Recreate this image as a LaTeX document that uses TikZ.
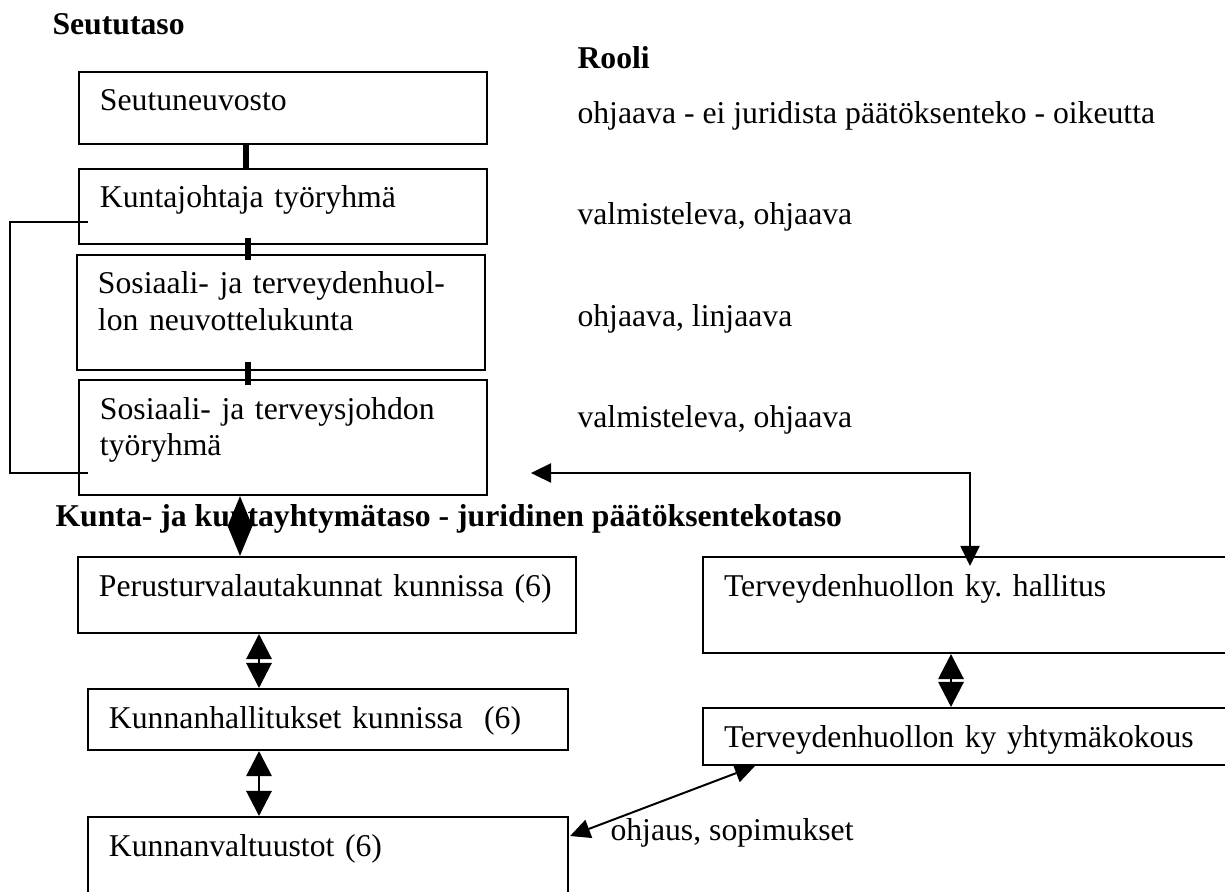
\documentclass[tikz,border=0pt]{standalone}
\usepackage{fontspec}
\setmainfont{Liberation Serif}
\usetikzlibrary{arrows.meta}

\tikzset{
  box/.style={draw, line width=0.75pt, anchor=north west, align=left,
              inner xsep=7.95pt, inner ysep=0pt, text height=14.76pt},
  heading/.style={anchor=base west, inner sep=0pt,
                  font=\fontsize{12}{14}\selectfont\frenchspacing\bfseries},
  role/.style={anchor=base west, inner sep=0pt},
  bar/.style={line width=2.25pt},
  conn/.style={line width=0.75pt},
  bigtwo/.style={<->, >={Triangle[length=9.5pt,width=9.5pt]}, line width=1.1pt},
  smalltwo/.style={<->, >={Triangle[length=7.6pt,width=7.2pt]}, line width=0.75pt}
}

\begin{document}
\begin{tikzpicture}[x=0.3785pt, y=-0.3785pt, font=\fontsize{12}{14}\selectfont\frenchspacing]
  \useasboundingbox (0,0) rectangle (1225,891);

  % Headings
  \node[heading] (seututaso) at (52,34)  {Seututaso};
  \node[heading] (rooli)     at (577,68) {Rooli};

  % Regional level
  \node[box, text width=138.5pt, text depth=12.49pt] (sn)  at (78,71)  {Seutuneuvosto};
  \node[box, text width=138.5pt, text depth=13.63pt] (kj)  at (78,168) {Kuntajohtaja työryhmä};
  \node[box, text width=138.5pt, text depth=28.77pt] (stn) at (76,254)
       {Sosiaali- ja terveydenhuol-\\lon neuvottelukunta};
  \node[box, text width=138.5pt, text depth=28.77pt] (stj) at (78,379)
       {Sosiaali- ja terveysjohdon\\työryhmä};

  % Roles
  \node[role] (r1) at (577,123) {ohjaava - ei juridista päätöksenteko - oikeutta};
  \node[role] (r2) at (577,224) {valmisteleva, ohjaava};
  \node[role] (r3) at (577,326) {ohjaava, linjaava};
  \node[role] (r4) at (577,427) {valmisteleva, ohjaava};

  % Municipal level
  \node[heading] (kunta) at (55,526) {Kunta- ja kuntayhtymätaso - juridinen päätöksentekotaso};
  \node[box, text width=172.6pt, text depth=14pt]    (ptl) at (77,556)  {Perusturvalautakunnat kunnissa (6)};
  \node[box, text width=165.8pt, text depth=8.33pt]  (kh)  at (87,688)  {Kunnanhallitukset kunnissa~~(6)};
  \node[box, text width=165.8pt, text depth=18.9pt]  (kv)  at (87,816)  {Kunnanvaltuustot (6)};
  \node[box, text width=187.7pt, text depth=21.57pt] (tkh) at (702,556) {Terveydenhuollon ky. hallitus};
  \node[box, text width=187.7pt, text depth=6.81pt]  (tky) at (702,707) {Terveydenhuollon ky yhtymäkokous};
  \node[role] (ohjaus) at (610,840) {ohjaus, sopimukset};

  % Links between regional bodies
  \draw[bar] (sn.south -| 246,0) -- (kj.north -| 246,0);
  \draw[bar] (kj.south -| 248,0) ++(0,-7) -- ++(0,22);
  \draw[bar] (stn.south -| 248,0) ++(0,-9) -- ++(0,23);
  \draw[conn] ([shift={(10,-23)}]kj.south west) -- ++(-78,0)
              |- ([shift={(10,-23)}]stj.south west);

  % Two-way arrows
  \draw[bigtwo, >={Triangle[length=11.4pt,width=9.1pt]}]
       (stj.south -| 240,0) -- (ptl.north -| 240,0);
  \draw[bigtwo] (ptl.south -| 259,0) -- (kh.north -| 259,0);
  \draw[bigtwo] (kh.south -| 259,0) -- (kv.north -| 259,0);
  \draw[bigtwo] (tkh.south -| 951,0) -- (tky.north -| 951,0);
  \draw[smalltwo] ([shift={(43,-23)}]stj.south east) -| ([shift={(268,10)}]tkh.north west);
  \draw[smalltwo] ([shift={(1,20)}]kv.north east) -- ([shift={(53,0)}]tky.south west);
\end{tikzpicture}
\end{document}
